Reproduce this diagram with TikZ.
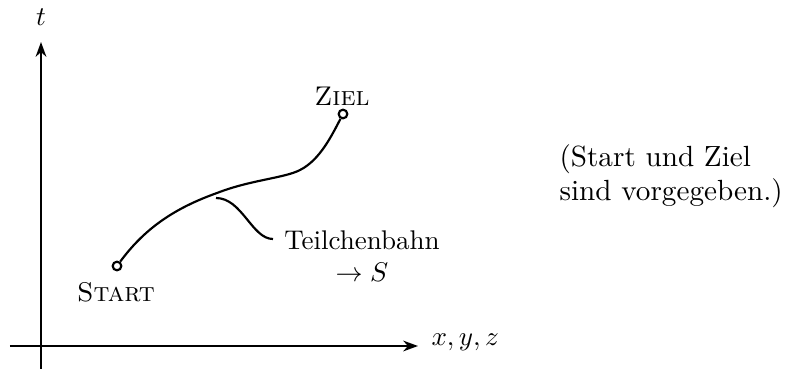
\documentclass[tikz,border=0pt]{standalone}
\usetikzlibrary{arrows.meta}
\begin{document}
\begin{tikzpicture}[x=0.37pt,y=-0.37pt,
  axis/.style={semithick,-{Stealth[length=5.5pt,width=4pt]}},
  path/.style={thick},
  endpt/.style={circle,draw,thick,inner sep=0pt,minimum size=3.2pt},
  txt/.style={inner sep=0pt}]
\useasboundingbox (0,0) rectangle (796,369);
% axes
\coordinate (yb) at (41,369);
\coordinate (yt) at (41,42);
\coordinate (xl) at (10,346);
\coordinate (xr) at (418,346);
\draw[axis] (yb) -- (yt);
\draw[axis] (xl) -- (xr);
\node[txt] (tl) at (41,17) {$t$};
\node[txt,anchor=west] (xyz) at (431,342) {$x,y,z$};
% end points
\node[endpt] (s) at (117,266) {};
\node[endpt] (z) at (343,114) {};
\node[txt] (sl) at (116,292) {\textsc{Start}};
\node[txt] (zl) at (342,96) {\textsc{Ziel}};
% trajectory
\coordinate (p1) at (217,193);
\coordinate (p2) at (300,170);
\draw[path] (s) .. controls (145,228) and (175,208) .. (p1)
  .. controls (250,180) and (285,178) .. (p2)
  .. controls (320,160) and (332,135) .. (z);
% label
\coordinate (la) at (216,198);
\node[txt,align=center] (lab) at (362,256) {Teilchenbahn\\$\to S$};
\coordinate (lb) at (273,239);
\draw[path] (la) .. controls (242,198) and (252,239) .. (lb);
% remark
\node[txt,align=left,anchor=west,font=\fontsize{10.8}{12.5}\selectfont] (rem) at (559,176) {(Start und Ziel\\sind vorgegeben.)};
\end{tikzpicture}
\end{document}
